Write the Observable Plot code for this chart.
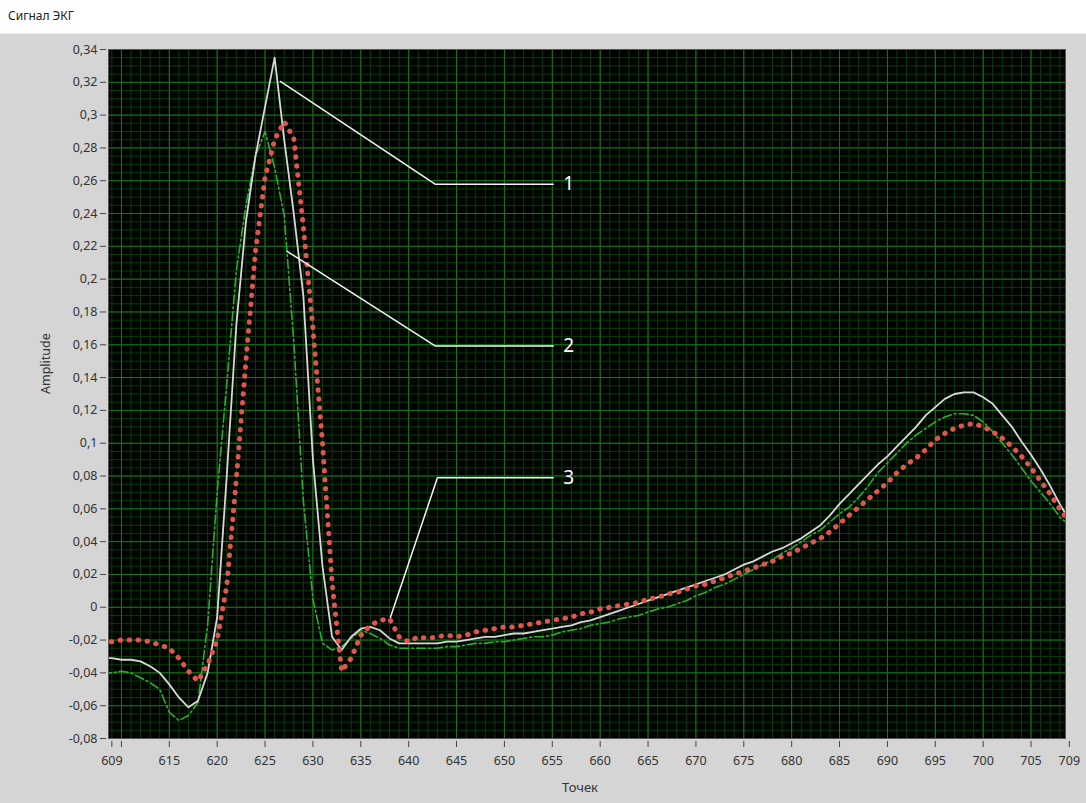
<!DOCTYPE html>
<html>
<head>
<meta charset="utf-8">
<script src="https://cdn.jsdelivr.net/npm/d3@7"></script>
<script src="https://cdn.jsdelivr.net/npm/@observablehq/plot@0.6"></script>
<style>
  html, body { margin: 0; padding: 0; background: #ffffff; }
  #title { height: 33px; box-sizing: border-box; padding: 7px 0 0 8px; font: 12px "Noto Sans", sans-serif; color: #222; }
  #chart svg { display: block; border-top: 1px solid #ececec; }
</style>
</head>
<body>
<div id="title">Сигнал ЭКГ</div>
<div id="chart"></div>
<script>
// sample numbers (Точек)
const samples = d3.range(608, 710);

// series 1 – white solid
const series1 = [
  -0.031, -0.031, -0.032, -0.032, -0.033, -0.036, -0.040, -0.047, -0.055, -0.061,
  -0.057, -0.040, -0.006, 0.080, 0.172, 0.235, 0.275, 0.305, 0.335, 0.285,
  0.240, 0.190, 0.090, 0.025, -0.018, -0.026, -0.018, -0.013, -0.012, -0.014,
  -0.019, -0.022, -0.022, -0.022, -0.022, -0.022, -0.021, -0.021, -0.020, -0.019,
  -0.018, -0.018, -0.017, -0.016, -0.016, -0.015, -0.014, -0.013, -0.012, -0.011,
  -0.009, -0.008, -0.006, -0.004, -0.002, 0.000, 0.002, 0.004, 0.006, 0.008,
  0.010, 0.012, 0.014, 0.016, 0.018, 0.020, 0.023, 0.026, 0.028, 0.031,
  0.034, 0.036, 0.039, 0.042, 0.046, 0.050, 0.056, 0.063, 0.069, 0.075,
  0.081, 0.087, 0.092, 0.098, 0.104, 0.110, 0.117, 0.122, 0.127, 0.130,
  0.131, 0.131, 0.128, 0.124, 0.117, 0.110, 0.101, 0.093, 0.084, 0.074,
  0.063, 0.053
];

// series 2 – green dash-dot
const series2 = [
  -0.040, -0.040, -0.039, -0.040, -0.043, -0.046, -0.050, -0.064, -0.069, -0.066,
  -0.058, -0.011, 0.070, 0.136, 0.205, 0.245, 0.275, 0.290, 0.268, 0.239,
  0.162, 0.065, 0.005, -0.022, -0.026, -0.024, -0.019, -0.014, -0.016, -0.019,
  -0.023, -0.025, -0.025, -0.025, -0.025, -0.025, -0.024, -0.024, -0.023, -0.022,
  -0.022, -0.021, -0.021, -0.020, -0.019, -0.018, -0.018, -0.017, -0.015, -0.014,
  -0.013, -0.011, -0.010, -0.009, -0.007, -0.006, -0.005, -0.003, -0.001, 0.000,
  0.002, 0.004, 0.007, 0.009, 0.012, 0.014, 0.017, 0.020, 0.023, 0.026,
  0.029, 0.033, 0.036, 0.040, 0.044, 0.047, 0.052, 0.057, 0.061, 0.067,
  0.074, 0.082, 0.088, 0.094, 0.100, 0.105, 0.109, 0.113, 0.116, 0.118,
  0.118, 0.117, 0.113, 0.107, 0.100, 0.093, 0.085, 0.077, 0.070, 0.063,
  0.055, 0.050
];

// series 3 – red dotted
const series3 = [
  -0.021, -0.021, -0.020, -0.020, -0.020, -0.021, -0.023, -0.025, -0.031, -0.039,
  -0.045, -0.035, -0.020, 0.013, 0.078, 0.150, 0.217, 0.262, 0.285, 0.296,
  0.286, 0.232, 0.170, 0.100, 0.015, -0.039, -0.031, -0.017, -0.011, -0.008,
  -0.007, -0.018, -0.021, -0.018, -0.019, -0.018, -0.017, -0.018, -0.017, -0.015,
  -0.014, -0.013, -0.012, -0.012, -0.011, -0.010, -0.009, -0.008, -0.007, -0.006,
  -0.004, -0.003, -0.001, 0.000, 0.001, 0.002, 0.003, 0.005, 0.006, 0.008,
  0.009, 0.011, 0.013, 0.014, 0.016, 0.018, 0.020, 0.022, 0.024, 0.026,
  0.028, 0.031, 0.033, 0.036, 0.039, 0.042, 0.046, 0.051, 0.056, 0.061,
  0.066, 0.071, 0.076, 0.082, 0.087, 0.091, 0.096, 0.102, 0.106, 0.109,
  0.111, 0.112, 0.110, 0.107, 0.103, 0.098, 0.092, 0.085, 0.077, 0.069,
  0.060, 0.052
];

// axis ticks
const xTicks = [609, 610, 615, 620, 625, 630, 635, 640, 645, 650, 655, 660, 665, 670, 675, 680, 685, 690, 695, 700, 705, 709];
const xTickLabels = ["609", "", "615", "620", "625", "630", "635", "640", "645", "650", "655", "660", "665", "670", "675", "680", "685", "690", "695", "700", "705", "709"];
const yTicks = [-0.08, -0.06, -0.04, -0.02, 0, 0.02, 0.04, 0.06, 0.08, 0.1, 0.12, 0.14, 0.16, 0.18, 0.2, 0.22, 0.24, 0.26, 0.28, 0.3, 0.32, 0.34];

// annotation callouts
const callouts = ["1", "2", "3"];
const calloutX = [[626.6, 642.8, 655.1], [627.3, 642.8, 655.1], [638.1, 643.0, 655.1]];
const calloutY = [[0.3205, 0.2578, 0.2578], [0.217, 0.1592, 0.1592], [-0.0061, 0.0789, 0.0789]];

const rows = samples.map((s, i) => ({s, a: series1[i], b: series2[i], c: series3[i]}));
const calloutLines = callouts.flatMap((k, j) => calloutX[j].map((x, i) => ({k, x, y: calloutY[j][i]})));
const calloutLabels = callouts.map((k, j) => ({k, x: calloutX[j][2], y: calloutY[j][2]}));

const xMinor = d3.range(609, 709);
const xMajor = d3.range(610, 709, 5);
const yMinor = d3.range(-80, 341, 5).map(v => v / 1000);
const fmtY = d => String(+(+d).toFixed(2)).replace(".", ",");

const chart = Plot.plot({
  width: 1086,
  height: 770,
  marginLeft: 108,
  marginRight: 21,
  marginTop: 15,
  marginBottom: 66,
  style: {background: "#d5d5d5", fontFamily: "'Noto Sans', sans-serif", fontSize: "12px", color: "#333"},
  x: {domain: [608.65, 708.6]},
  y: {domain: [-0.08, 0.34]},
  marks: [
    Plot.frame({fill: "#000400", stroke: null}),
    Plot.ruleX(xMinor, {stroke: "#0b3a0b", strokeWidth: 1}),
    Plot.ruleY(yMinor, {stroke: "#0b3a0b", strokeWidth: 1}),
    Plot.ruleX(xMajor, {stroke: "#1a761a", strokeWidth: 1}),
    Plot.ruleY(yTicks, {stroke: "#1a761a", strokeWidth: 1}),
    Plot.line(rows, {x: "s", y: "b", stroke: "#2caf2c", strokeWidth: 1.6, strokeDasharray: "9 3 2 3", clip: true}),
    Plot.line(rows, {x: "s", y: "a", stroke: "#d8d8d8", strokeWidth: 1.8, clip: true}),
    Plot.line(rows, {x: "s", y: "c", stroke: "#e4544e", strokeWidth: 5, strokeDasharray: "0.5 8.5", strokeLinecap: "round", clip: true}),
    Plot.line(calloutLines, {x: "x", y: "y", z: "k", stroke: "#f4f4f4", strokeWidth: 1.5}),
    Plot.text(calloutLabels, {x: "x", y: "y", text: "k", fill: "#ffffff", fontSize: 19, textAnchor: "start", dx: 10}),
    Plot.frame({stroke: "#555", strokeWidth: 1}),
    Plot.axisX({ticks: xTicks, tickFormat: d => xTickLabels[xTicks.indexOf(d)], tickSize: 6, tickPadding: 9, label: null, stroke: "#444", fill: "#333", fontSize: 12.5, dy: 3}),
    Plot.axisY({ticks: yTicks, tickFormat: fmtY, tickSize: 6, tickPadding: 3, label: null, stroke: "#444", fill: "#333", fontSize: 12.5, dx: -2}),
    Plot.text(["Точек"], {frameAnchor: "bottom", dy: 53, dx: -7, fill: "#333", fontSize: 13}),
    Plot.text(["Amplitude"], {frameAnchor: "left", dx: -63, rotate: -90, fill: "#333", fontSize: 12.5})
  ]
});
document.getElementById("chart").appendChild(chart);
</script>
</body>
</html>
